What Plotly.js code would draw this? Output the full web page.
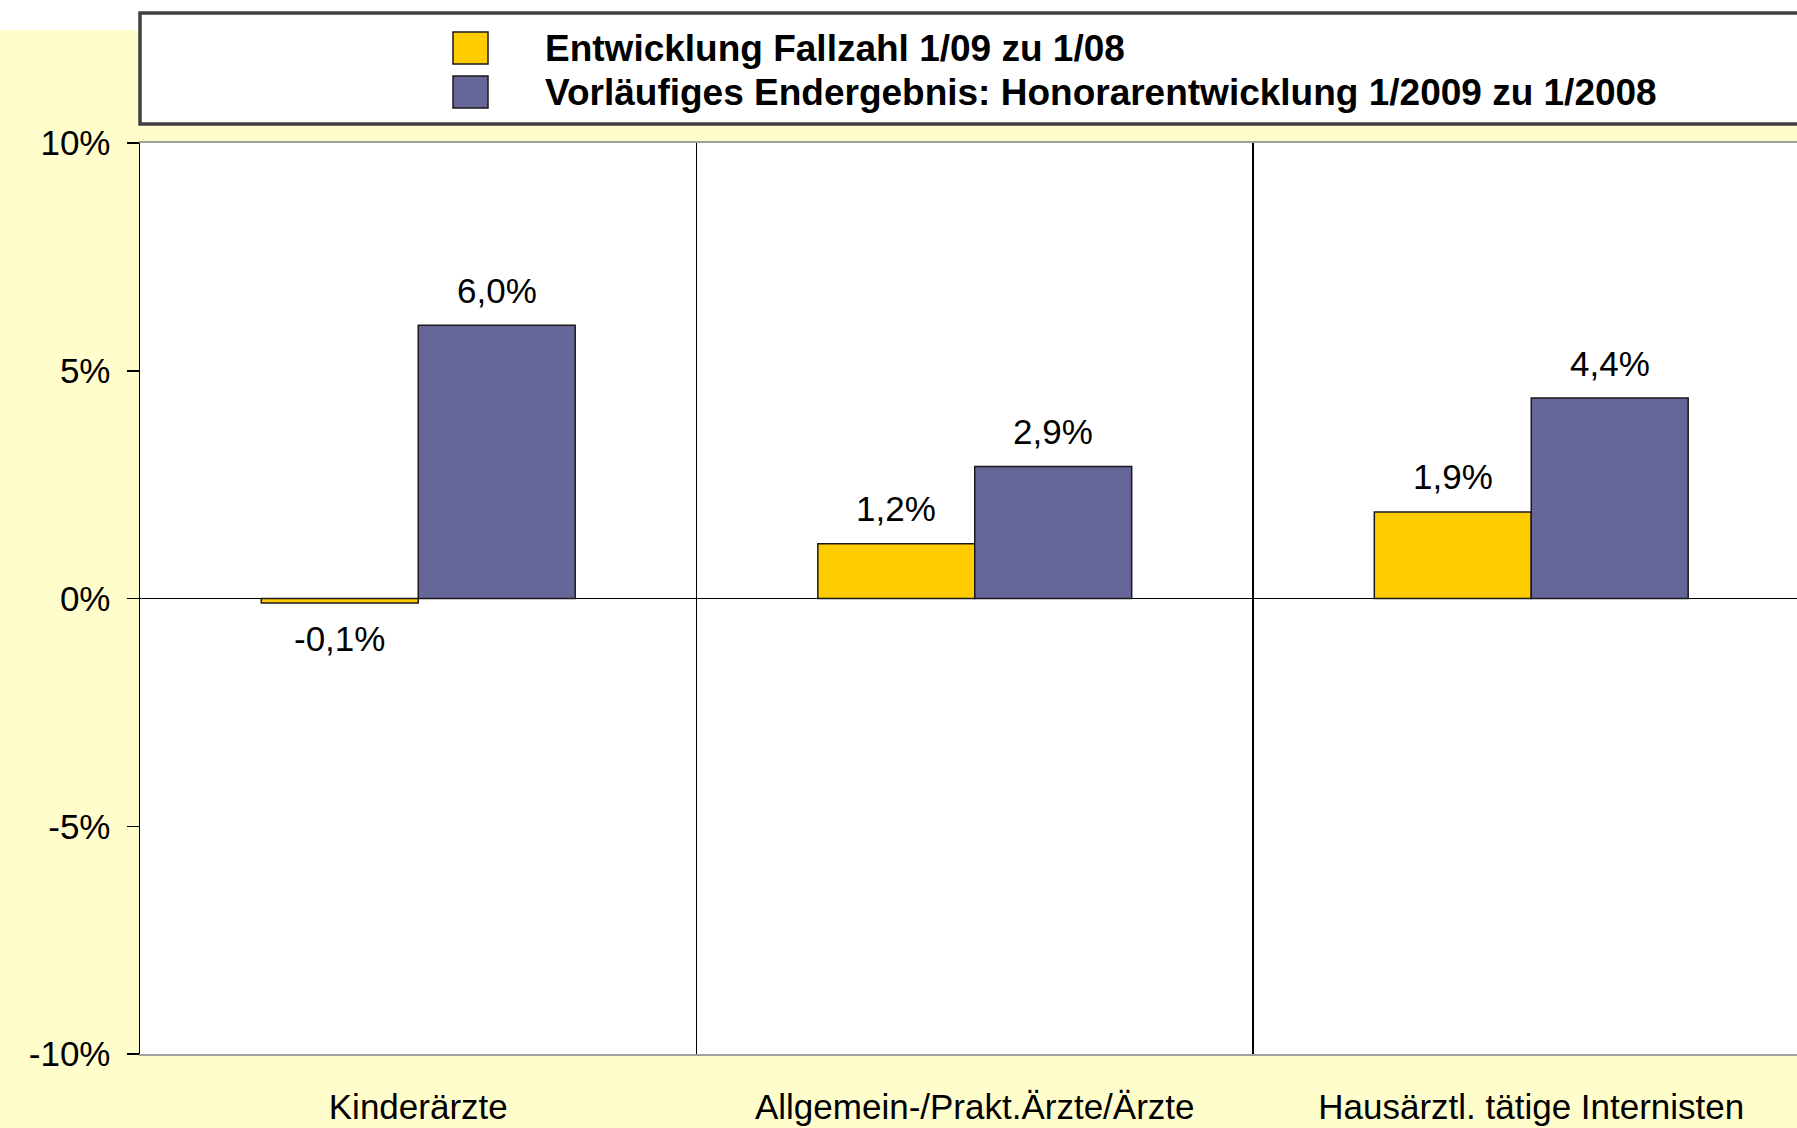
<!DOCTYPE html>
<html><head><meta charset="utf-8">
<script src="https://cdn.plot.ly/plotly-3.0.1.min.js"></script>
<style>html,body{margin:0;padding:0;background:#fff}#chart{width:1797px;height:1128px}</style>
</head><body><div id="chart"></div>
<script>
const categories = ['Kinderärzte', 'Allgemein-/Prakt.Ärzte/Ärzte', 'Hausärztl. tätige Internisten'];
const seriesNames = ['Entwicklung Fallzahl 1/09 zu 1/08', 'Vorläufiges Endergebnis: Honorarentwicklung 1/2009 zu 1/2008'];
const fallzahl = [-0.1, 1.2, 1.9];
const honorar = [6.0, 2.9, 4.4];
const yTickVals = [10, 5, 0, -5, -10];
const yTickText = ['10%', '5%', '0%', '-5%', '-10%'];

const fmt = v => v.toFixed(1).replace('.', ',') + '%';
const colors = ['#FFCC00', '#666699'];
const FONT = 'Liberation Sans, Arial, Helvetica, sans-serif';

const W = 1797, H = 1128;
const M = {l: 140, r: 0, t: 143, b: 74, pad: 0};
const plotW = W - M.l - M.r, plotH = H - M.t - M.b;
const catPx = 556.5;
const bargap = 0.436;
const xRange = [-0.5, -0.5 + plotW / catPx];
const barPx = catPx * (1 - bargap) / 2;
const xp = px => (px - M.l) / plotW;
const yp = py => (H - M.b - py) / plotH;

const series = [fallzahl, honorar];
const traces = series.map((vals, s) => ({
  type: 'bar', name: seriesNames[s], x: categories, y: vals,
  marker: {color: colors[s], line: {color: '#1a1a1a', width: 1.5}},
  hoverinfo: 'skip'
}));

const annotations = [];
series.forEach((vals, s) => {
  vals.forEach((v, i) => {
    annotations.push({
      x: categories[i], y: v, xref: 'x', yref: 'y', text: fmt(v), showarrow: false,
      xshift: (s === 0 ? -1 : 1) * barPx / 2, yshift: v >= 0 ? 35 : -35,
      xanchor: 'center', yanchor: 'middle',
      font: {family: FONT, size: 35, color: '#000'}
    });
  });
});
// legend texts
const legendRows = [48, 92];
seriesNames.forEach((n, s) => {
  annotations.push({
    xref: 'paper', yref: 'paper', x: xp(543), y: yp(legendRows[s]), text: n, showarrow: false,
    xanchor: 'left', yanchor: 'middle',
    font: {family: FONT, size: 37, color: '#000', weight: 'bold'}
  });
});

const shapes = [
  {type: 'rect', xref: 'paper', yref: 'paper', x0: xp(0), x1: xp(W + 10), y0: yp(0), y1: yp(30),
   fillcolor: '#FFFFFF', line: {width: 0}, layer: 'below'},
  {type: 'rect', xref: 'paper', yref: 'paper', x0: xp(140), x1: xp(W + 20), y0: yp(13), y1: yp(124),
   fillcolor: '#FFFFFF', line: {color: '#404040', width: 3.5}, layer: 'above'}
];
legendRows.forEach((cy, s) => {
  shapes.push({type: 'rect', xref: 'paper', yref: 'paper', x0: xp(453), x1: xp(488), y0: yp(cy - 16), y1: yp(cy + 16),
    fillcolor: colors[s], line: {color: '#1a1a1a', width: 1.5}, layer: 'above'});
});

const layout = {
  width: W, height: H, margin: M, showlegend: false,
  paper_bgcolor: '#FFFDCC', plot_bgcolor: '#FFFFFF',
  font: {family: FONT, size: 35, color: '#000'},
  barmode: 'group', bargap: bargap, bargroupgap: 0,
  xaxis: {
    type: 'category', range: xRange, tickson: 'boundaries', ticks: '',
    showgrid: true, gridcolor: '#000', gridwidth: 1.2,
    showline: true, mirror: true, linecolor: '#A0A0A0', linewidth: 2,
    tickfont: {family: FONT, size: 35, color: '#000'}, ticklabelstandoff: 21,
    automargin: false, fixedrange: true
  },
  yaxis: {
    range: [-10, 10], tickvals: yTickVals, ticktext: yTickText,
    ticks: 'outside', ticklen: 12, tickwidth: 1.5, tickcolor: '#000',
    showgrid: false, showline: true, linecolor: '#000', linewidth: 1.5,
    zeroline: true, zerolinecolor: '#000', zerolinewidth: 1.5,
    tickfont: {family: FONT, size: 35, color: '#000'}, ticklabelstandoff: 9,
    automargin: false, fixedrange: true
  },
  shapes: shapes, annotations: annotations
};

Plotly.newPlot('chart', traces, layout, {displayModeBar: false, staticPlot: true});
</script></body></html>
